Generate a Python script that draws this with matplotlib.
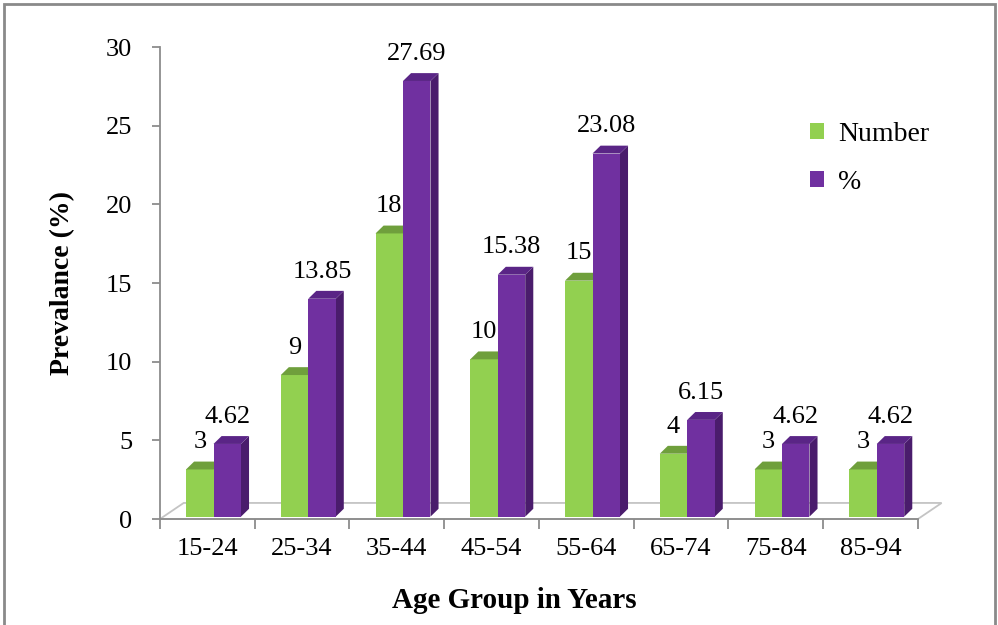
import numpy as np
import matplotlib.pyplot as plt
from matplotlib.patches import Polygon, Rectangle

plt.rcParams['font.family'] = ['Liberation Serif', 'DejaVu Serif']

age_groups = ['15-24', '25-34', '35-44', '45-54', '55-64', '65-74', '75-84', '85-94']
number = [3, 9, 18, 10, 15, 4, 3, 3]
percent = [4.62, 13.85, 27.69, 15.38, 23.08, 6.15, 4.62, 4.62]

green, green_top = '#92D050', '#6f9f3c'
purple, purple_side, purple_top = '#7030A0', '#4a1c6c', '#5a2586'
axis_grey = '#8c8c8c'

fig = plt.figure(figsize=(9.98, 6.25), dpi=100)
ax = fig.add_axes([0.1603, 0.1696, 0.7595, 0.7552])
ax.set_xlim(-0.5, 7.5)
ax.set_ylim(0, 30)

# pseudo-3d depth of bars and floor, in data units
dx, dy = 0.085, 0.5
fdx, fdy = 0.25, 1.02
base = 0.15
w = 0.29

# floor
floor = Polygon([(-0.5, 0), (7.5, 0), (7.5 + fdx, fdy), (-0.5 + fdx, fdy)],
                closed=True, facecolor='white', edgecolor='#c4c4c4', lw=1.3,
                clip_on=False, zorder=1)
ax.add_patch(floor)


def bar3d(x0, h, face, side, top):
    x1 = x0 + w
    y1 = base + h
    ax.add_patch(Polygon([(x1, base), (x1 + dx, base + dy), (x1 + dx, y1 + dy), (x1, y1)],
                         facecolor=side, edgecolor='none', zorder=3, clip_on=False))
    ax.add_patch(Rectangle((x0, base), w, h, facecolor=face, edgecolor='none',
                           zorder=3, clip_on=False))
    ax.add_patch(Polygon([(x0, y1), (x1, y1), (x1 + dx, y1 + dy), (x0 + dx, y1 + dy)],
                         facecolor=top, edgecolor='none', zorder=3, clip_on=False))


x = np.arange(len(age_groups))
for i in x:
    g0 = i - 0.225
    p0 = g0 + w
    bar3d(g0, number[i], green, green_top, green_top)
    bar3d(p0, percent[i], purple, purple_side, purple_top)
    ax.annotate(f'{number[i]:g}', (g0 + w / 2, base + number[i] + dy),
                xytext=(0, 6), textcoords='offset points', ha='center', va='bottom',
                fontsize=19)
    ax.annotate(f'{percent[i]:.2f}', (p0 + w / 2, base + percent[i] + dy),
                xytext=(0, 6), textcoords='offset points', ha='center', va='bottom',
                fontsize=19)

# axes styling
for s in ['top', 'right']:
    ax.spines[s].set_visible(False)
for s in ['left', 'bottom']:
    ax.spines[s].set_color(axis_grey)
    ax.spines[s].set_linewidth(1.3)
ax.set_yticks(np.arange(0, 31, 5))
ax.set_xticks(x)
ax.set_xticklabels(age_groups)
ax.set_xticks(np.arange(-0.5, 8, 1), minor=True)
ax.tick_params(axis='x', which='major', length=0, pad=14, labelsize=19)
ax.tick_params(axis='x', which='minor', length=7, width=1.3, color=axis_grey)
ax.tick_params(axis='y', length=6, width=1.3, color=axis_grey, labelsize=19, pad=14)

ax.set_xlabel('Age Group in Years', fontsize=21, fontweight='bold')
ax.xaxis.set_label_coords(0.467, -0.144)
ax.set_ylabel('Prevalance (%)', fontsize=20, fontweight='bold', labelpad=22)

# legend
leg_h = [Rectangle((0, 0), 1, 1, facecolor=green), Rectangle((0, 0), 1, 1, facecolor=purple)]
ax.legend(leg_h, ['Number', '%'], loc='upper left', bbox_to_anchor=(0.825, 0.895),
          frameon=False, fontsize=20, handlelength=0.5, handleheight=0.5,
          handletextpad=0.5, labelspacing=0.85)

# outer chart border
fig.patches.append(Rectangle((0.004, -0.1), 0.993, 1.093, transform=fig.transFigure,
                             fill=False, edgecolor='#8a8a8a', lw=2))

fig.savefig('out.png', dpi=100)
